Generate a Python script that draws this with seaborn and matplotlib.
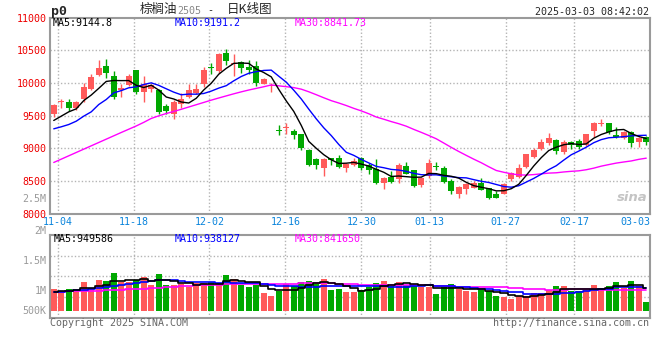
import numpy as np
import pandas as pd
import matplotlib
matplotlib.use("Agg")
import matplotlib.pyplot as plt
import matplotlib.transforms as mtransforms
import seaborn as sns

# --------------------------------------------------
# Dados - p2505 diario
# --------------------------------------------------
holidays = ["2025-01-01", "2025-01-28", "2025-01-29", "2025-01-30",
            "2025-01-31", "2025-02-03", "2025-02-04"]
dates = pd.bdate_range("2024-11-01", "2025-03-03").drop(pd.to_datetime(holidays))
tick_dates = ["11-04", "11-18", "12-02", "12-16", "12-30",
              "01-13", "01-27", "02-17", "03-03"]

opens = [9516, 9705, 9704, 9618, 9745, 9898, 10122, 10250, 10112, 9893,
         9964, 10189, 9862, 9900, 9883, 9653, 9516, 9679, 9781, 9842,
         9975, 10235, 10179, 10459, 10285, 10316, 10240, 10255, 9985, 9955,
         9280, 9308, 9260, 9210, 8965, 8827, 8700, 8853, 8853, 8700,
         8750, 8842, 8735, 8680, 8460, 8557, 8521, 8720, 8659, 8429,
         8572, 8724, 8700, 8495, 8291, 8368, 8394, 8460, 8383, 8291,
         8291, 8521, 8562, 8715, 8868, 8990, 9082, 9118, 8939, 9092,
         9107, 9041, 9260, 9370, 9378, 9194, 9148, 9245, 9092, 9174]
highs = [9678, 9760, 9760, 9720, 10000, 10128, 10347, 10362, 10179, 9975,
         10128, 10199, 10097, 9985, 9898, 9679, 9730, 9847, 9975, 9975,
         10240, 10306, 10449, 10520, 10444, 10332, 10342, 10332, 10077, 10000,
         9347, 9388, 9286, 9210, 8980, 8853, 8853, 8853, 8893, 8776,
         8842, 8863, 8776, 8827, 8557, 8648, 8766, 8781, 8664, 8557,
         8827, 8781, 8720, 8531, 8419, 8470, 8495, 8536, 8394, 8342,
         8470, 8633, 8751, 8914, 9006, 9133, 9225, 9133, 9118, 9107,
         9133, 9210, 9403, 9454, 9388, 9327, 9260, 9260, 9169, 9184]
lows = [9475, 9618, 9567, 9582, 9710, 9888, 10107, 10077, 9745, 9781,
        9944, 9822, 9710, 9860, 9526, 9526, 9449, 9618, 9770, 9832,
        9934, 10128, 10153, 10270, 10102, 10153, 10138, 9949, 9975, 9862,
        9199, 9210, 9133, 8965, 8725, 8674, 8572, 8750, 8689, 8638,
        8725, 8659, 8608, 8445, 8368, 8470, 8460, 8597, 8399, 8399,
        8546, 8664, 8460, 8291, 8230, 8291, 8383, 8353, 8215, 8230,
        8291, 8496, 8547, 8700, 8853, 8965, 9046, 8904, 8904, 8980,
        8990, 9031, 9169, 9337, 9210, 9148, 9133, 9016, 9021, 9056]
closes = [9668, 9712, 9618, 9710, 9934, 10092, 10224, 10148, 9781, 9924,
          10097, 9862, 9975, 9960, 9551, 9567, 9710, 9745, 9883, 9913,
          10204, 10225, 10434, 10332, 10295, 10230, 10199, 10000, 10066, 9962,
          9272, 9316, 9199, 8995, 8740, 8740, 8827, 8812, 8710, 8761,
          8801, 8700, 8659, 8460, 8536, 8480, 8735, 8608, 8414, 8546,
          8766, 8716, 8480, 8342, 8404, 8445, 8460, 8358, 8230, 8240,
          8455, 8613, 8700, 8904, 8965, 9092, 9158, 8955, 9092, 9056,
          9016, 9210, 9388, 9378, 9250, 9169, 9245, 9082, 9148, 9092]
# volume em milhares de lotes
volume_k = [897, 814, 897, 814, 1198, 909, 1269, 1227, 1570, 1174,
            1198, 1269, 1393, 1062, 1516, 1062, 1062, 1091, 992, 1157,
            1132, 1198, 1132, 1475, 1310, 1062, 967, 1062, 744, 620,
            826, 1103, 1033, 1198, 1227, 1186, 1310, 855, 897, 785,
            785, 855, 992, 1157, 1227, 1033, 1198, 1062, 1021, 992,
            992, 690, 967, 1103, 884, 826, 785, 855, 826, 607,
            578, 483, 607, 607, 744, 744, 855, 1021, 1021, 826,
            826, 855, 1062, 926, 1021, 1186, 926, 1227, 1021, 372]

# inicio das medias moveis (dependem de dias antes de 11-01)
ma5_head = [9424, 9490, 9556, 9602]
ma10_head = [9296, 9327, 9362, 9413, 9490, 9556, 9668, 9745, 9847]
ma30_head = [8781, 8832, 8883, 8934, 8985, 9036, 9087, 9138, 9189, 9240,
             9290, 9340, 9395, 9455, 9495, 9530, 9562, 9595, 9630, 9665,
             9700, 9735, 9768, 9800, 9832, 9862, 9890, 9915, 9940]
vma5_head = [785, 800, 830, 855]
vma10_head = [770, 790, 810, 840, 870, 910, 950, 990, 1020]
vma30_head = [785, 790, 800, 805, 814, 820, 830, 840, 855, 865,
              878, 890, 910, 925, 945, 965, 992, 1010, 1030, 1045,
              1062, 1070, 1078, 1085, 1090, 1092, 1095, 1098, 1100]

price_ma_text = ["MA5:9144.8", "MA10:9191.2", "MA30:8841.73"]
vol_ma_text = ["MA5:949586", "MA10:938127", "MA30:841650"]
price_ticks = [8000, 8500, 9000, 9500, 10000, 10500, 11000]
vol_labels = ["2.5M", "2M", "1.5M", "1M", "500K"]

# --------------------------------------------------
# Preparacao
# --------------------------------------------------
df = pd.DataFrame({"open": opens, "high": highs, "low": lows,
                   "close": closes, "vol": np.array(volume_k) * 1000.0})
n = len(df)
x = np.arange(n)


def moving(series, window, head):
    ma = series.rolling(window).mean()
    ma.iloc[:len(head)] = head
    return ma


ma5 = moving(df["close"], 5, ma5_head)
ma10 = moving(df["close"], 10, ma10_head)
ma30 = moving(df["close"], 30, ma30_head)
vma5 = moving(df["vol"], 5, np.array(vma5_head) * 1000.0)
vma10 = moving(df["vol"], 10, np.array(vma10_head) * 1000.0)
vma30 = moving(df["vol"], 30, np.array(vma30_head) * 1000.0)

RED, GREEN = "#ff5a5a", "#00a800"
cols = np.where(df["close"] >= df["open"], RED, GREEN)

mm_labels = list(dates.strftime("%m-%d"))
tick_idx = np.array([mm_labels.index(d) for d in tick_dates])
# a sina espalha as datas como se o primeiro e o ultimo candle tocassem as bordas
grid_x = tick_idx * n / (n - 1) - 0.5

sns.set_style("white")
MONO = "DejaVu Sans Mono"
CJK = ["Noto Sans CJK SC", "DejaVu Sans"]
GRID = "#b4b4b4"
BORDER = "#9a9a9a"
FS = 7.2

W, H = 660, 360
fig = plt.figure(figsize=(6.6, 3.6), dpi=100)


def fx(px):
    return px / W


def fy(py):
    return 1 - py / H


ax = fig.add_axes([fx(50), fy(213.5), 600 / W, 196 / H])
axv = fig.add_axes([fx(50), fy(318), 600 / W, 83.3 / H])

# --------------------------------------------------
# Painel de precos
# --------------------------------------------------
ax.set_xlim(-0.5, n - 0.5)
ax.set_ylim(8000, 11000)
for gx in grid_x:
    ax.axvline(gx, color=GRID, lw=1, ls=(0, (1, 1.5)), zorder=0)
for gy in price_ticks[1:-1]:
    ax.axhline(gy, color=GRID, lw=1, ls=(0, (1, 1.5)), zorder=0)

body_h = np.maximum((df["close"] - df["open"]).abs(), 14)
body_b = (df["close"] + df["open"]) / 2 - body_h / 2
ax.vlines(x, df["low"], df["high"], colors=cols, lw=1, zorder=2)
ax.bar(x, body_h, bottom=body_b, width=0.8, color=cols, linewidth=0, zorder=3)

for ma, c in [(ma30, "#ff00ff"), (ma10, "#0000ff"), (ma5, "black")]:
    sns.lineplot(x=x, y=ma.values, ax=ax, color=c, linewidth=1,
                 estimator=None, legend=False, zorder=4)

ax.set_yticks(price_ticks)
ax.set_yticklabels([str(t) for t in price_ticks], color="#ee0000",
                   fontsize=FS, family=MONO)
ax.set_xticks([])
ax.tick_params(axis="y", length=0, pad=2.5)
for s in ax.spines.values():
    s.set_color(BORDER)
    s.set_linewidth(1.5)

for txt, c, px in zip(price_ma_text, ["black", "#0000ff", "#ff00ff"], [53, 175, 295]):
    fig.text(fx(px), fy(23.5), txt, color=c, fontsize=FS, family=MONO,
             ha="left", va="center")

# logo
fig.text(fx(648), fy(197), "sina", color="#c4c4c4", fontsize=9.5,
         fontweight="bold", style="italic", family="DejaVu Sans",
         ha="right", va="center")

# --------------------------------------------------
# Painel de volume
# --------------------------------------------------
axv.set_xlim(-0.5, n - 0.5)
vlo, vhi = -0.30e6, 3.14e6
axv.set_ylim(vlo, vhi)
for gx in grid_x:
    axv.axvline(gx, color=GRID, lw=1, ls=(0, (1, 1.5)), zorder=0)
for f in [0.25, 0.5, 0.75]:
    axv.axhline(vlo + (vhi - vlo) * f, color=GRID, lw=1, ls=(0, (1, 1.5)), zorder=0)

axv.bar(x, df["vol"], width=0.86, color=cols, linewidth=0, zorder=2)
for ma, c in [(vma30, "#ff00ff"), (vma10, "#0000ff"), (vma5, "black")]:
    sns.lineplot(x=x, y=ma.values, ax=axv, color=c, linewidth=1.2,
                 estimator=None, legend=False, drawstyle="steps-mid", zorder=4)

axv.set_xticks([])
axv.set_yticks([])
for s in axv.spines.values():
    s.set_color(BORDER)
    s.set_linewidth(1.5)

for txt, c, px in zip(vol_ma_text, ["black", "#0000ff", "#ff00ff"], [54, 175, 295]):
    fig.text(fx(px), fy(238.5), txt, color=c, fontsize=FS, family=MONO,
             ha="left", va="center")

for txt, py in zip(vol_labels, [199.3, 230.7, 260.7, 290.7, 310.7]):
    fig.text(fx(46.5), fy(py), txt, color="#9a9a9a", fontsize=FS, family=MONO,
             ha="right", va="center")

# datas entre os paineis
trans = mtransforms.blended_transform_factory(ax.transData, fig.transFigure)
for i, (gx, lab) in enumerate(zip(grid_x, tick_dates)):
    ha = "right" if i == len(tick_dates) - 1 else "center"
    ax.text(gx, fy(221.7), lab, transform=trans, color="#0a84dc",
            fontsize=FS, family=MONO, ha=ha, va="center", clip_on=False)

# --------------------------------------------------
# Titulo e rodape
# --------------------------------------------------
fig.text(fx(51), fy(11), "p0", fontsize=9.5, fontweight="bold", family=MONO,
         ha="left", va="center")
fig.text(fx(140), fy(10), "棕榈油", fontsize=9, family=CJK, ha="left", va="center")
fig.text(fx(177), fy(10.5), "2505", fontsize=FS, family=MONO, color="#888888",
         ha="left", va="center")
fig.text(fx(210), fy(10), "-", fontsize=FS, family=MONO, ha="center", va="center")
fig.text(fx(227), fy(10), "日K线图", fontsize=9, family=CJK, ha="left", va="center")
fig.text(fx(649), fy(12), "2025-03-03 08:42:02", fontsize=FS, family=MONO,
         ha="right", va="center")

fig.text(fx(50), fy(323.5), "Copyright 2025 SINA.COM", fontsize=FS, family=MONO,
         color="#666666", ha="left", va="center")
fig.text(fx(649), fy(323.5), "http://finance.sina.com.cn", fontsize=FS, family=MONO,
         color="#666666", ha="right", va="center")

fig.savefig("out.png", dpi=100)
plt.close(fig)
